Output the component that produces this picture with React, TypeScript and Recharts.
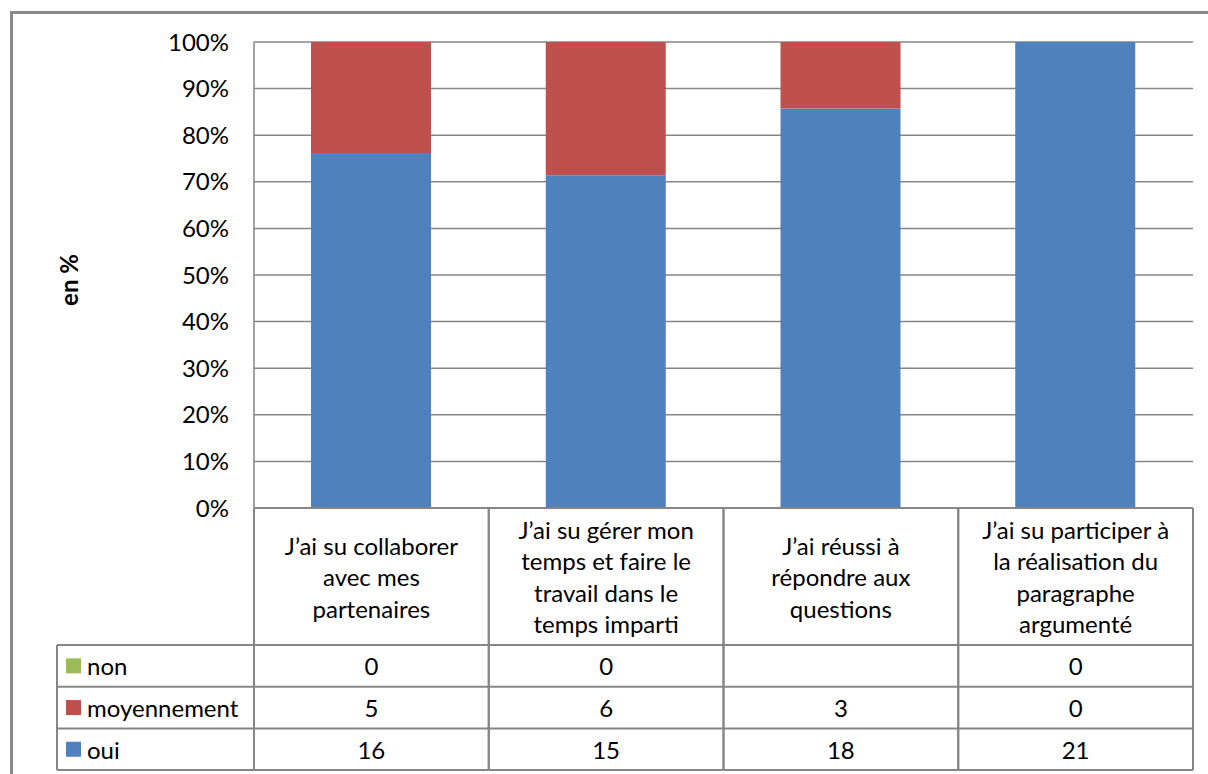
import React from 'react';
import { BarChart, Bar, XAxis, YAxis, CartesianGrid } from 'recharts';

const categories = [
  "J’ai su collaborer\navec mes\npartenaires",
  "J’ai su gérer mon\ntemps et faire le\ntravail dans le\ntemps imparti",
  "J’ai réussi à\nrépondre aux\nquestions",
  "J’ai su participer à\nla réalisation du\nparagraphe\nargumenté",
];
const oui = [16, 15, 18, 21];
const moyennement = [5, 6, 3, 0];
const non: (number | null)[] = [0, 0, null, 0];
const yTicks = [0, 0.1, 0.2, 0.3, 0.4, 0.5, 0.6, 0.7, 0.8, 0.9, 1];

const COLORS = { oui: '#4F81BD', moyennement: '#C0504D', non: '#9BBB59' };
const GRID = '#868686';
const FONT = 'Lato, "Open Sans", sans-serif';
const FS = 24;

const W = 1208;
const H = 774;
const PLOT_LEFT = 254;
const PLOT_RIGHT = 1193;
const PLOT_TOP = 42;
const PLOT_BOTTOM = 508;
const Y_AXIS_W = 60;
const TABLE_LEFT = 57;
const HEADER_H = 137;
const ROW_H = 41.7;

const data = categories.map((name, i) => ({
  name,
  oui: oui[i],
  moyennement: moyennement[i],
  non: non[i],
}));

// table rows, top to bottom, as in the Excel data table
const rows = [
  { key: 'non', label: 'non', values: non },
  { key: 'moyennement', label: 'moyennement', values: moyennement },
  { key: 'oui', label: 'oui', values: oui },
];

const colW = (PLOT_RIGHT - PLOT_LEFT) / categories.length;

function TableColumn(props: any) {
  const { x, y, payload, index } = props;
  const left = x - colW / 2;
  const right = x + colW / 2;
  const lines = String(payload.value).split('\n');
  const headCenter = y + HEADER_H / 2;
  const rowsTop = y + HEADER_H;
  const bottom = rowsTop + ROW_H * rows.length;

  return (
    <g>
      {/* header cell */}
      <line x1={left} x2={right} y1={y} y2={y} stroke={GRID} strokeWidth={2} />
      <line x1={left} x2={left} y1={y} y2={bottom} stroke={GRID} strokeWidth={2} />
      <line x1={right} x2={right} y1={y} y2={bottom} stroke={GRID} strokeWidth={2} />
      {lines.map((ln, k) => (
        <text
          key={k}
          x={x}
          y={headCenter + (k - (lines.length - 1) / 2) * 31.5}
          textAnchor="middle"
          dominantBaseline="central"
          fontFamily={FONT}
          fontSize={FS}
          fill="#000"
        >
          {ln}
        </text>
      ))}
      {/* value cells */}
      {rows.map((r, k) => {
        const top = rowsTop + k * ROW_H;
        const v = r.values[index];
        return (
          <g key={r.key}>
            <line x1={left} x2={right} y1={top} y2={top} stroke={GRID} strokeWidth={2} />
            {v !== null && v !== undefined && (
              <text
                x={x}
                y={top + ROW_H / 2}
                textAnchor="middle"
                dominantBaseline="central"
                fontFamily={FONT}
                fontSize={FS}
                fill="#000"
              >
                {v}
              </text>
            )}
          </g>
        );
      })}
      <line x1={left} x2={right} y1={bottom} y2={bottom} stroke={GRID} strokeWidth={2} />

      {/* legend column, drawn once with the first column */}
      {index === 0 && (
        <g>
          <line x1={TABLE_LEFT} x2={left} y1={rowsTop} y2={rowsTop} stroke={GRID} strokeWidth={2} />
          <line x1={TABLE_LEFT} x2={TABLE_LEFT} y1={rowsTop} y2={bottom} stroke={GRID} strokeWidth={2} />
          {rows.map((r, k) => {
            const top = rowsTop + k * ROW_H;
            return (
              <g key={r.key}>
                <line x1={TABLE_LEFT} x2={left} y1={top + ROW_H} y2={top + ROW_H} stroke={GRID} strokeWidth={2} />
                <rect
                  x={TABLE_LEFT + 9}
                  y={top + ROW_H / 2 - 7.5}
                  width={15}
                  height={15}
                  fill={COLORS[r.key as keyof typeof COLORS]}
                />
                <text
                  x={TABLE_LEFT + 30}
                  y={top + ROW_H / 2}
                  dominantBaseline="central"
                  fontFamily={FONT}
                  fontSize={FS}
                  fill="#000"
                >
                  {r.label}
                </text>
              </g>
            );
          })}
        </g>
      )}
    </g>
  );
}

function YLabel() {
  const cy = 280;
  return (
    <text
      x={68}
      y={cy}
      transform={`rotate(-90 68 ${cy})`}
      textAnchor="middle"
      dominantBaseline="central"
      fontFamily={FONT}
      fontSize={FS}
      fontWeight="bold"
      fill="#000"
    >
      en %
    </text>
  );
}

export default function App() {
  return (
    <div style={{ position: 'fixed', inset: 0, overflow: 'hidden', background: '#fff' }}>
      {/* outer chart frame, cut off at right and bottom */}
      <div
        style={{
          position: 'absolute',
          left: 10,
          top: 11,
          width: 1400,
          height: 1000,
          borderLeft: '3px solid #898989',
          borderTop: '3px solid #898989',
        }}
      />
      <div style={{ position: 'absolute', left: 0, top: 0 }}>
        <BarChart
          width={W}
          height={H}
          data={data}
          stackOffset="expand"
          barSize={120}
          margin={{
            top: PLOT_TOP,
            left: PLOT_LEFT - Y_AXIS_W,
            right: W - PLOT_RIGHT,
            bottom: 0,
          }}
        >
          <CartesianGrid vertical={false} stroke={GRID} strokeWidth={1.5} />
          <XAxis
            dataKey="name"
            axisLine={false}
            tickLine={false}
            tickSize={0}
            tickMargin={0}
            height={H - PLOT_BOTTOM}
            interval={0}
            tick={<TableColumn />}
          />
          <YAxis
            width={Y_AXIS_W}
            domain={[0, 1]}
            ticks={yTicks}
            tickFormatter={(v: number) => `${Math.round(v * 100)}%`}
            axisLine={{ stroke: GRID, strokeWidth: 1.5 }}
            tickLine={false}
            tickSize={0}
            tickMargin={25}
            tick={{ fill: '#000', fontSize: FS, fontFamily: FONT }}
            label={<YLabel />}
          />
          <Bar dataKey="oui" stackId="a" fill={COLORS.oui} isAnimationActive={false} />
          <Bar dataKey="moyennement" stackId="a" fill={COLORS.moyennement} isAnimationActive={false} />
          <Bar dataKey="non" stackId="a" fill={COLORS.non} isAnimationActive={false} />
        </BarChart>
      </div>
    </div>
  );
}
